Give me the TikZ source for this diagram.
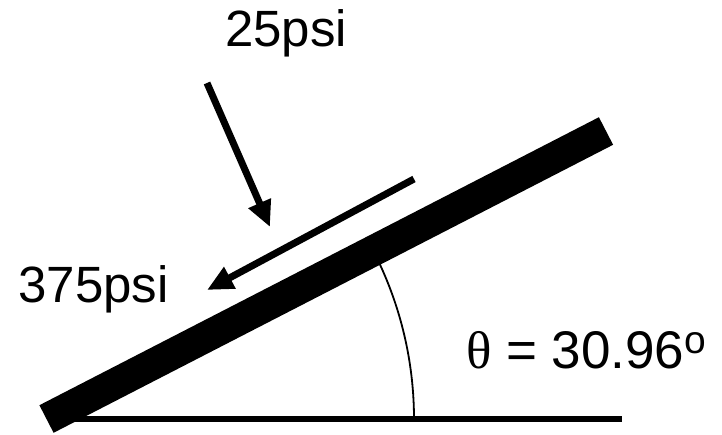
\documentclass[tikz,border=0pt]{standalone}
\usepackage{fontspec}
\setmainfont{Liberation Sans}
\newfontfamily\thetafont{Liberation Serif}
\usetikzlibrary{arrows.meta}
\begin{document}
\begin{tikzpicture}[x=1pt,y=1pt,
  lbl/.style={inner sep=0pt,outer sep=0pt,anchor=base west,font=\fontsize{51}{51}\selectfont},
  force/.style={line width=7pt,-{Triangle[width=23pt,length=26pt]}},
  barline/.style={line width=31pt},
  groundline/.style={line width=6pt},
  anglearc/.style={line width=1.8pt}]
\useasboundingbox (0,0) rectangle (722,434);
% bar
\coordinate (barA) at (46.5,15);
\coordinate (barB) at (606,303);
\draw[barline] (barA) -- (barB);
% ground
\coordinate (gA) at (70,15);
\coordinate (gB) at (622,15);
\draw[groundline] (gA) -- (gB);
% angle arc
\coordinate (arcS) at (414,15);
\draw[anglearc] (arcS) arc[start angle=0,end angle=25,radius=367.5];
% arrows
\coordinate (f1s) at (207,351);
\coordinate (f1e) at (270,207);
\draw[force] (f1s) -- (f1e);
\coordinate (f2s) at (414,255);
\coordinate (f2e) at (207,144);
\draw[force] (f2s) -- (f2e);
% labels
\node[lbl] (t25) at (225,387) {25psi};
\node[lbl] (t375) at (18.5,132) {375psi};
\node[lbl,font=\fontsize{53}{53}\selectfont] (tth) at (466,66) {{\thetafont θ} = 30.96\raisebox{15pt}{\fontsize{39}{39}\selectfont o}};
\end{tikzpicture}
\end{document}
